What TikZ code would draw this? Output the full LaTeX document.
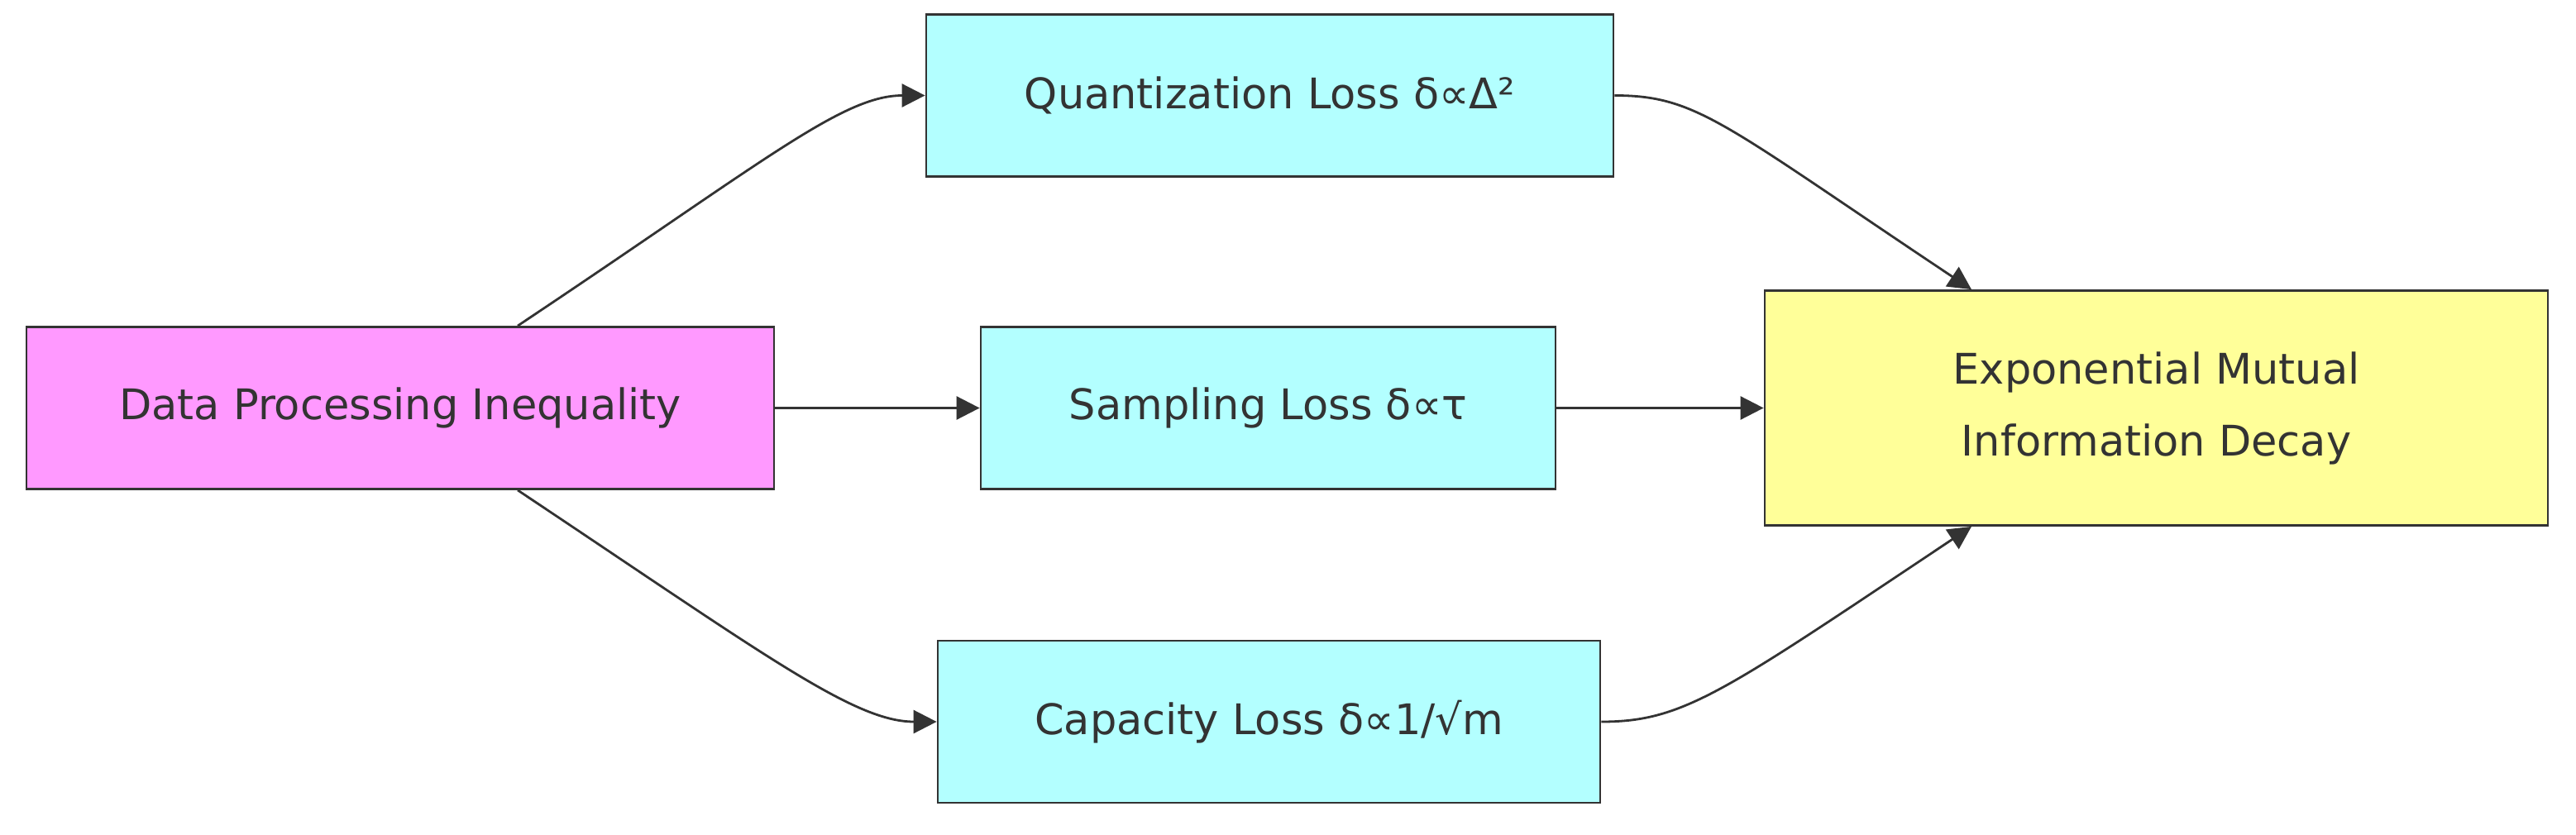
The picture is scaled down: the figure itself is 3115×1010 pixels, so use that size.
\documentclass[tikz,border=0pt]{standalone}
\usepackage{fontspec}
\setmainfont{DejaVu Sans}
\usetikzlibrary{arrows.meta}
\definecolor{pinkfill}{HTML}{FF99FF}
\definecolor{cyanfill}{HTML}{B3FFFF}
\definecolor{yellowfill}{HTML}{FFFF99}
\definecolor{edgegray}{HTML}{333333}

\begin{document}
\begin{tikzpicture}[x=0.5pt,y=-0.5pt,
		box/.style={draw=edgegray,line width=1.4pt,rectangle,inner sep=0pt,text=edgegray,
			font=\fontsize{25.5}{43.5}\selectfont,minimum height=98pt},
		arr/.style={-{Triangle[length=14pt,width=14pt]},draw=edgegray,line width=1.4pt}]
			\useasboundingbox (0,0) rectangle (3115,1010);

			\node[box,fill=pinkfill,minimum width=452pt] (dpi) at (484,493.5) {Data Processing Inequality};
			\node[box,fill=cyanfill,minimum width=415.5pt] (quant) at (1535.5,115.5) {Quantization Loss δ∝Δ²};
			\node[box,fill=cyanfill,minimum width=347.5pt] (samp) at (1533.5,493.5) {Sampling Loss δ∝τ};
			\node[box,fill=cyanfill,minimum width=400.5pt] (cap) at (1534.5,873) {Capacity Loss δ∝1/√m};
			\node[box,fill=yellowfill,minimum width=473.5pt,minimum height=142pt,align=center] (decay) at (2607.5,493.5) {Exponential Mutual\\Information Decay};

			\draw[arr] ([xshift=71pt]dpi.north) .. controls +(300,-200) and +(-100,0) .. (quant.west);
			\draw[arr] (dpi.east) -- (samp.west);
			\draw[arr] ([xshift=71pt]dpi.south) .. controls +(300,200) and +(-100,0) .. (cap.west);

			\draw[arr] (quant.east) .. controls +(100,0) and +(-300,-200) .. ([xshift=-111.75pt]decay.north);
			\draw[arr] (samp.east) -- (decay.west);
			\draw[arr] (cap.east) .. controls +(100,0) and +(-300,200) .. ([xshift=-111.75pt]decay.south);
		\end{tikzpicture}
\end{document}
